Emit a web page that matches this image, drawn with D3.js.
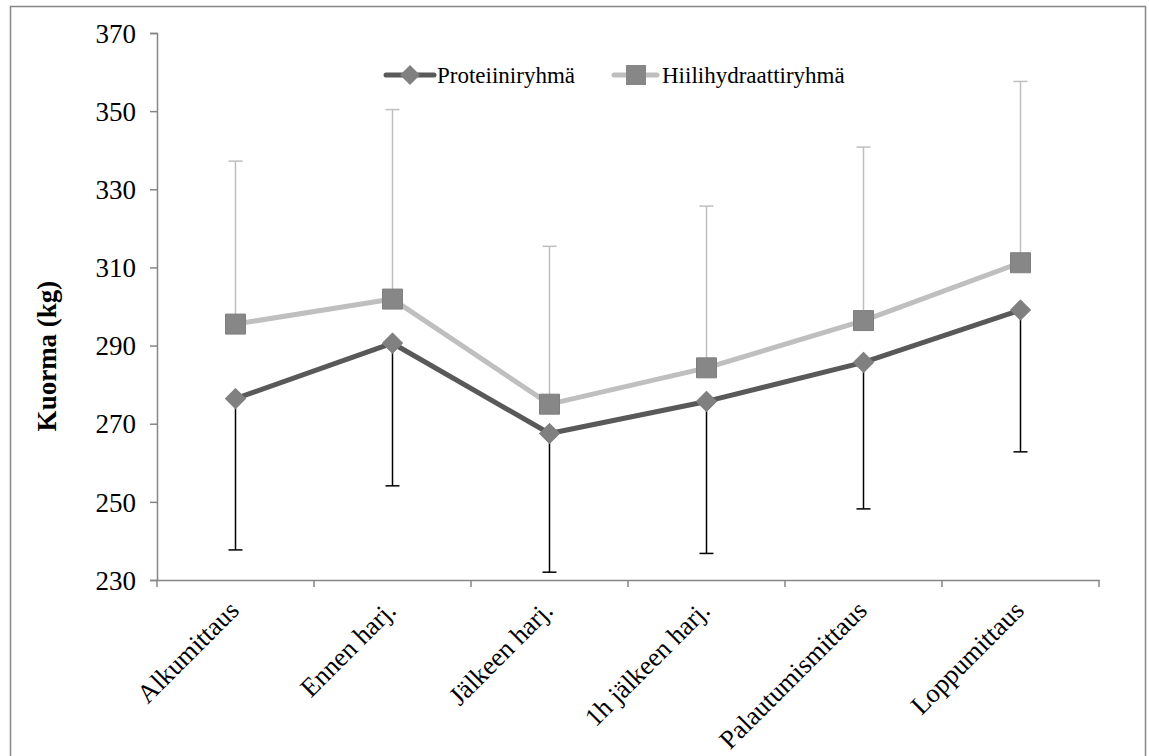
<!DOCTYPE html>
<html><head><meta charset="utf-8">
<script src="https://cdn.jsdelivr.net/npm/d3@7"></script>
<style>body{margin:0;background:#fff}svg{display:block}text{font-family:"Liberation Serif","Times New Roman",serif}</style>
</head><body><svg id="c" width="1149" height="756"></svg>
<script>
const categories = ["Alkumittaus","Ennen harj.","Jälkeen harj.","1h jälkeen harj.","Palautumismittaus","Loppumittaus"];
const proteinValues = [276.4, 290.6, 267.5, 275.7, 285.7, 299.1];
const proteinLower  = [237.7, 254.1, 232.0, 236.8, 248.2, 262.8];
const carbValues    = [295.5, 301.9, 275.0, 284.3, 296.4, 311.2];
const carbUpper     = [337.2, 350.4, 315.4, 325.7, 340.8, 357.6];
const yTicks = [230, 250, 270, 290, 310, 330, 350, 370];
const seriesNames = ["Proteiiniryhmä", "Hiilihydraattiryhmä"];

const svg = d3.select("#c");
svg.append("rect").attr("x",10.5).attr("y",6.5).attr("width",1135).attr("height",760)
  .attr("fill","#fff").attr("stroke","#868686").attr("stroke-width",1.5);

const L=157, R=1099, T=33, B=580;
const x = d3.scaleBand().domain(categories).range([L,R]);
const y = d3.scaleLinear().domain([230,370]).range([B,T]);
const cx = c => x(c) + x.bandwidth()/2;

// axes
const yAx = svg.append("g").attr("transform",`translate(${L},0)`)
  .call(d3.axisLeft(y).tickValues(yTicks).tickSize(7).tickPadding(14).tickFormat(d3.format("d")));
yAx.select(".domain").attr("stroke","#868686").attr("stroke-width",1.5);
yAx.selectAll(".tick line").attr("stroke","#868686").attr("stroke-width",1.5);
yAx.selectAll(".tick text").attr("font-size",27).attr("fill","#000").attr("font-family","Liberation Serif").attr("dy","0.34em");

const xAx = svg.append("g").attr("transform",`translate(0,${B})`)
  .call(d3.axisBottom(x).tickSize(0).tickFormat(""));
xAx.select(".domain").attr("stroke","#868686").attr("stroke-width",1.5);
// boundary ticks
const bounds = categories.map(c=>x(c)).concat([R]);
svg.append("g").selectAll("line").data(bounds).join("line")
  .attr("x1",d=>d).attr("x2",d=>d).attr("y1",B).attr("y2",B+7)
  .attr("stroke","#868686").attr("stroke-width",1.5);
svg.append("g").selectAll("text").data(categories).join("text")
  .attr("transform",d=>`translate(${cx(d)+5},${B+32}) rotate(-45)`)
  .attr("text-anchor","end").attr("font-size",26.5).attr("fill","#000").text(d=>d);

// y label
svg.append("text").attr("transform","translate(56,356) rotate(-90)")
  .attr("text-anchor","middle").attr("font-size",27).attr("font-weight","bold").text("Kuorma (kg)");

// error bars
const capW = 7;
const eb1 = svg.append("g");
categories.forEach((c,i)=>{
  eb1.append("line").attr("x1",cx(c)).attr("x2",cx(c)).attr("y1",y(carbValues[i])).attr("y2",y(carbUpper[i])).attr("stroke","#bfbfbf").attr("stroke-width",1.5);
  eb1.append("line").attr("x1",cx(c)-capW).attr("x2",cx(c)+capW).attr("y1",y(carbUpper[i])).attr("y2",y(carbUpper[i])).attr("stroke","#bfbfbf").attr("stroke-width",1.5);
  eb1.append("line").attr("x1",cx(c)).attr("x2",cx(c)).attr("y1",y(proteinValues[i])).attr("y2",y(proteinLower[i])).attr("stroke","#000").attr("stroke-width",1.5);
  eb1.append("line").attr("x1",cx(c)-capW).attr("x2",cx(c)+capW).attr("y1",y(proteinLower[i])).attr("y2",y(proteinLower[i])).attr("stroke","#000").attr("stroke-width",1.5);
});

const line = d3.line().x((d,i)=>cx(categories[i])).y(d=>y(d));
svg.append("path").datum(carbValues).attr("d",line).attr("fill","none").attr("stroke","#bfbfbf").attr("stroke-width",5).attr("stroke-linejoin","round");
svg.append("path").datum(proteinValues).attr("d",line).attr("fill","none").attr("stroke","#595959").attr("stroke-width",5).attr("stroke-linejoin","round");

const sq = d3.symbol().type(d3.symbolSquare).size(400);
const dm = d3.symbol().type(d3.symbolSquare).size(200);
svg.append("g").selectAll("path").data(carbValues).join("path")
  .attr("d",sq).attr("transform",(d,i)=>`translate(${cx(categories[i])},${y(d)})`)
  .attr("fill","#878787").attr("stroke","#7f7f7f").attr("stroke-width",1).attr("stroke-linejoin","round");
svg.append("g").selectAll("path").data(proteinValues).join("path")
  .attr("d",dm).attr("transform",(d,i)=>`translate(${cx(categories[i])},${y(d)}) rotate(45)`)
  .attr("fill","#808080").attr("stroke","#7f7f7f").attr("stroke-width",1).attr("stroke-linejoin","round");

// legend
const lg = svg.append("g");
lg.append("line").attr("x1",386).attr("x2",434).attr("y1",75).attr("y2",75).attr("stroke","#595959").attr("stroke-width",5).attr("stroke-linecap","round");
lg.append("path").attr("d",dm).attr("transform","translate(410,75) rotate(45)").attr("fill","#808080");
lg.append("text").attr("x",437).attr("y",83).attr("font-size",23).text(seriesNames[0]);
lg.append("line").attr("x1",614).attr("x2",657).attr("y1",75).attr("y2",75).attr("stroke","#bfbfbf").attr("stroke-width",5).attr("stroke-linecap","round");
lg.append("path").attr("d",sq).attr("transform","translate(636,75)").attr("fill","#878787");
lg.append("text").attr("x",662).attr("y",83).attr("font-size",23).text(seriesNames[1]);
</script></body></html>
